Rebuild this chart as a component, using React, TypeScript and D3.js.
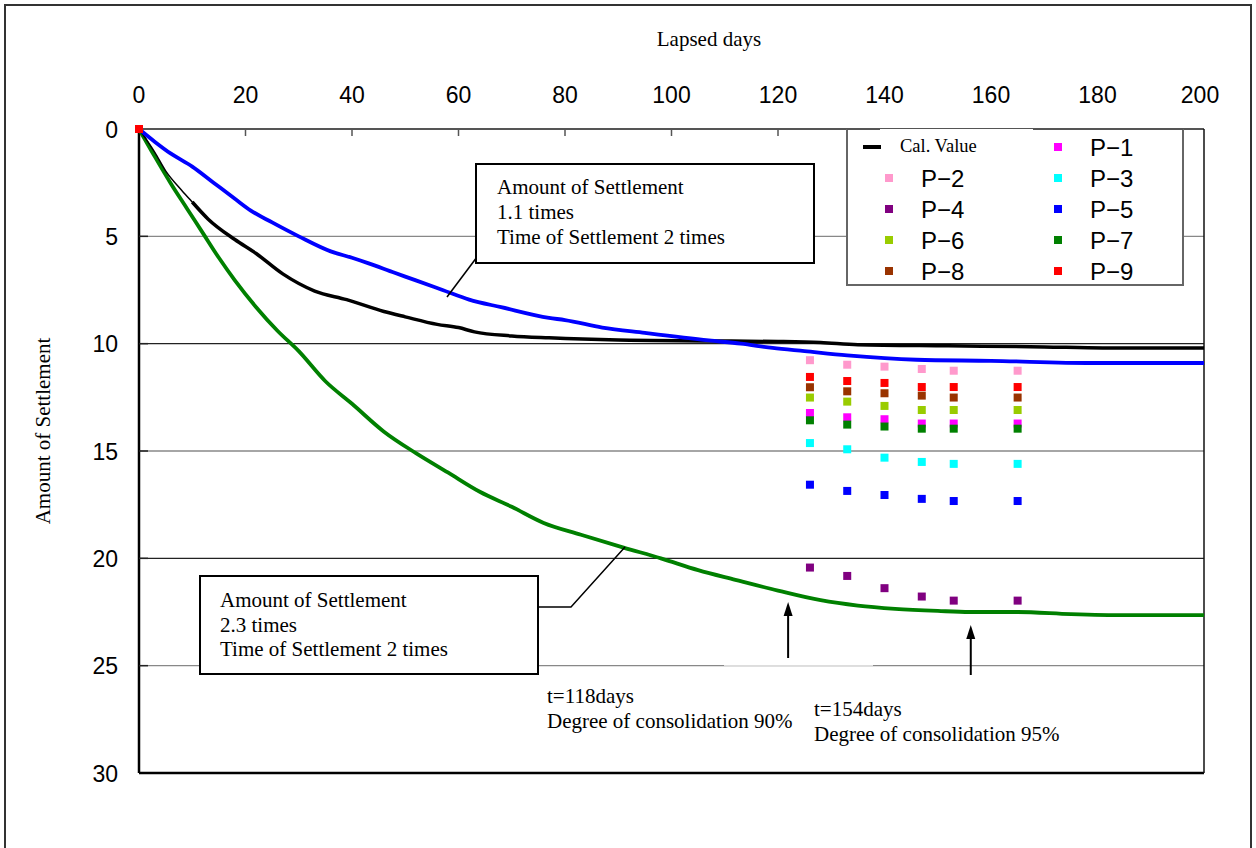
import * as d3 from "d3";

const W = 1256;
const H = 848;
const left = 139;
const right = 1204;
const top = 129;
const bottom = 773;

// calculated curve (black)
const calDays = [0, 3, 5, 8, 10, 13, 18, 22, 27, 33, 39, 46, 50, 56, 60, 63, 70, 77, 90, 107, 120, 128, 135, 152, 170, 181, 200];
const calValues = [0, 1.1, 1.95, 2.85, 3.4, 4.2, 5.15, 5.8, 6.75, 7.55, 7.95, 8.5, 8.75, 9.1, 9.25, 9.45, 9.64, 9.73, 9.83, 9.87, 9.9, 9.95, 10.05, 10.1, 10.15, 10.2, 10.2];

// 1.1 times settlement (blue)
const blueDays = [0, 3, 6, 10, 14, 18, 21, 25, 30, 36, 40, 43, 48, 52, 57, 62, 68, 77, 80, 87, 95, 107, 113, 119, 125, 133, 146, 160, 179, 200];
const blueValues = [0, 0.6, 1.15, 1.75, 2.5, 3.25, 3.8, 4.35, 5.0, 5.7, 6.0, 6.25, 6.7, 7.05, 7.5, 7.95, 8.3, 8.8, 8.9, 9.25, 9.5, 9.85, 10.0, 10.2, 10.35, 10.55, 10.75, 10.8, 10.9, 10.9];

// 2.3 times settlement (green)
const greenDays = [0, 3, 6, 9, 12, 15, 18, 22, 26, 30, 35, 40, 46, 52, 58, 64, 70, 76, 83, 91, 98, 105, 112, 120, 128, 135, 142, 150, 156, 165, 175, 185, 200];
const greenValues = [0, 1.3, 2.55, 3.7, 4.85, 6.0, 7.05, 8.3, 9.4, 10.35, 11.75, 12.8, 14.1, 15.1, 16.0, 16.9, 17.6, 18.35, 18.9, 19.5, 20.0, 20.55, 21.0, 21.5, 21.95, 22.2, 22.35, 22.45, 22.5, 22.5, 22.6, 22.65, 22.65];

// measured points
const obsDays = [0, 126, 133, 140, 147, 153, 165];
const p1 = [0, 13.23, 13.43, 13.52, 13.72, 13.72, 13.72];
const p2 = [0, 10.77, 10.98, 11.07, 11.18, 11.26, 11.26];
const p3 = [0, 14.63, 14.92, 15.31, 15.51, 15.6, 15.6];
const p4 = [0, 20.43, 20.82, 21.39, 21.78, 21.97, 21.97];
const p5 = [0, 16.57, 16.86, 17.05, 17.23, 17.33, 17.33];
const p6 = [0, 12.51, 12.7, 12.9, 13.09, 13.09, 13.09];
const p7 = [0, 13.57, 13.77, 13.86, 13.96, 13.96, 13.96];
const p8 = [0, 12.03, 12.22, 12.31, 12.42, 12.51, 12.51];
const p9 = [0, 11.55, 11.74, 11.83, 12.02, 12.02, 12.02];

const pNames = ["P−1", "P−2", "P−3", "P−4", "P−5", "P−6", "P−7", "P−8", "P−9"];
const pColors = ["#ff00ff", "#ff99cc", "#00ffff", "#800080", "#0000ff", "#99cc00", "#008000", "#993300", "#ff0000"];
const pValues = [p1, p2, p3, p4, p5, p6, p7, p8, p9];

const xTicks = [0, 20, 40, 60, 80, 100, 120, 140, 160, 180, 200];
const yTicks = [0, 5, 10, 15, 20, 25, 30];

const arrowDays = [121.9, 156.2];

const serif = "'Liberation Serif', 'Times New Roman', serif";
const sans = "'Liberation Sans', Arial, sans-serif";

export default function App() {
  const x = d3.scaleLinear().domain([0, 200]).range([left, right]);
  const y = d3.scaleLinear().domain([0, 30]).range([top, bottom]);

  const line = d3
    .line<[number, number]>()
    .x((d) => x(d[0]))
    .y((d) => y(d[1]))
    .curve(d3.curveMonotoneX);

  const cal = calDays.map((d, i) => [d, calValues[i]] as [number, number]);
  const blue = blueDays.map((d, i) => [d, blueValues[i]] as [number, number]);
  const green = greenDays.map((d, i) => [d, greenValues[i]] as [number, number]);

  // legend slots: slot 0 is Cal. Value, then P-1..P-9 in two columns
  const legendRows = pNames.map((n, i) => {
    const k = i + 1;
    return { name: n, color: pColors[i], col: k % 2, row: Math.floor(k / 2) };
  });
  const legendColX = [889, 1058];
  const legendTextX = [921, 1090];
  const legendRowY = (r: number) => 147 + r * 31;

  return (
    <svg width={W} height={H} style={{ position: "absolute", left: 0, top: 0, background: "#fff" }}>
      <rect x={5} y={5} width={1246} height={900} fill="#fff" stroke="#333" strokeWidth={2} />

      {/* gridlines */}
      {yTicks.slice(1, -1).map((t) => (
        <line key={t} x1={left} x2={right} y1={y(t)} y2={y(t)} stroke={t % 10 === 0 ? "#222" : "#888"} strokeWidth={1.3} />
      ))}
      <line x1={724} x2={873} y1={y(25)} y2={y(25)} stroke="#ddd" strokeWidth={1.5} />

      {/* axes frame */}
      <line x1={left} x2={right} y1={top} y2={top} stroke="#555" strokeWidth={2} />
      <line x1={left} x2={left} y1={top} y2={bottom} stroke="#000" strokeWidth={2.5} />
      <line x1={left} x2={right} y1={bottom} y2={bottom} stroke="#000" strokeWidth={2.5} />
      <line x1={right} x2={right} y1={top} y2={bottom} stroke="#111" strokeWidth={1.5} />
      {xTicks.slice(1, -1).map((t) => (
        <line key={t} x1={x(t)} x2={x(t)} y1={top} y2={top + 7} stroke="#555" strokeWidth={1.5} />
      ))}
      {yTicks.slice(1, -1).map((t) => (
        <line key={t} x1={left} x2={left + 9} y1={y(t)} y2={y(t)} stroke="#222" strokeWidth={1.5} />
      ))}

      {/* tick labels */}
      {xTicks.map((t) => (
        <text key={t} x={x(t) - (t === 200 ? 4 : 0)} y={103} textAnchor="middle" fontFamily={sans} fontSize={23} fill="#000">
          {t}
        </text>
      ))}
      {yTicks.map((t) => (
        <text key={t} x={118} y={y(t) + 8.5} textAnchor="end" fontFamily={sans} fontSize={23} fill="#000">
          {t}
        </text>
      ))}
      <text x={709} y={46} textAnchor="middle" fontFamily={serif} fontSize={21}>
        Lapsed days
      </text>
      <text transform="translate(50,431) rotate(-90)" textAnchor="middle" fontFamily={serif} fontSize={21}>
        Amount of Settlement
      </text>

      {/* curves */}
      <path d={line(green) ?? ""} fill="none" stroke="#008000" strokeWidth={3.8} />
      <path d={line(cal) ?? ""} fill="none" stroke="#000" strokeWidth={1.5} />
      <path d={line(cal.filter((d) => d[0] >= 10)) ?? ""} fill="none" stroke="#000" strokeWidth={3.5} />
      <path d={line(blue) ?? ""} fill="none" stroke="#0000ff" strokeWidth={3.8} />

      {/* measured points */}
      {pValues.map((vals, i) =>
        obsDays.map((d, j) => (
          <rect key={`${i}-${j}`} x={x(d) - 4} y={y(vals[j]) - 4} width={8} height={8} fill={pColors[i]} />
        ))
      )}

      {/* annotation box 1 */}
      <line x1={477} y1={257} x2={447} y2={297} stroke="#000" strokeWidth={1.5} />
      <rect x={476} y={164} width={338} height={99} fill="#fff" stroke="#000" strokeWidth={2} />
      <text fontFamily={serif} fontSize={21} fill="#000">
        <tspan x={497} y={194}>Amount of Settlement</tspan>
        <tspan x={497} y={219}>1.1 times</tspan>
        <tspan x={497} y={244}>Time of Settlement 2 times</tspan>
      </text>

      {/* annotation box 2 */}
      <polyline points="538,607 571,607 625,547" fill="none" stroke="#000" strokeWidth={1.5} />
      <rect x={200} y={576} width={338} height={98} fill="#fff" stroke="#000" strokeWidth={2} />
      <text fontFamily={serif} fontSize={21} fill="#000">
        <tspan x={220} y={607}>Amount of Settlement</tspan>
        <tspan x={220} y={632}>2.3 times</tspan>
        <tspan x={220} y={656}>Time of Settlement 2 times</tspan>
      </text>

      {/* arrows */}
      {arrowDays.map((d, i) => {
        const ax = x(d);
        const tip = i === 0 ? 602 : 625;
        const base = i === 0 ? 658 : 675;
        return (
          <g key={d}>
            <line x1={ax} x2={ax} y1={tip + 10} y2={base} stroke="#000" strokeWidth={2} />
            <path d={`M${ax},${tip} L${ax - 4.5},${tip + 14} L${ax + 4.5},${tip + 14} Z`} fill="#000" />
          </g>
        );
      })}
      <text fontFamily={serif} fontSize={21} fill="#000">
        <tspan x={547} y={703}>t=118days</tspan>
        <tspan x={547} y={728}>Degree of consolidation 90%</tspan>
      </text>
      <text fontFamily={serif} fontSize={21} fill="#000">
        <tspan x={814} y={716}>t=154days</tspan>
        <tspan x={814} y={741}>Degree of consolidation 95%</tspan>
      </text>

      {/* legend */}
      <rect x={847} y={129} width={336} height={156} fill="#fff" stroke="none" />
      <path d="M847,129 V285 H1183 V129" fill="none" stroke="#666" strokeWidth={2} />
      <line x1={847} x2={880} y1={top} y2={top} stroke="#555" strokeWidth={2} />
      <line x1={1033} x2={1183} y1={top} y2={top} stroke="#555" strokeWidth={2} />
      <line x1={863} x2={881} y1={legendRowY(0)} y2={legendRowY(0)} stroke="#000" strokeWidth={4} />
      <text x={900} y={legendRowY(0) + 5} fontFamily={serif} fontSize={18.5}>
        Cal. Value
      </text>
      {legendRows.map((r) => (
        <g key={r.name}>
          <rect x={legendColX[r.col] - 4} y={legendRowY(r.row) - 4} width={8} height={8} fill={r.color} />
          <text x={legendTextX[r.col]} y={legendRowY(r.row) + 9} fontFamily={sans} fontSize={24}>
            {r.name}
          </text>
        </g>
      ))}
    </svg>
  );
}
